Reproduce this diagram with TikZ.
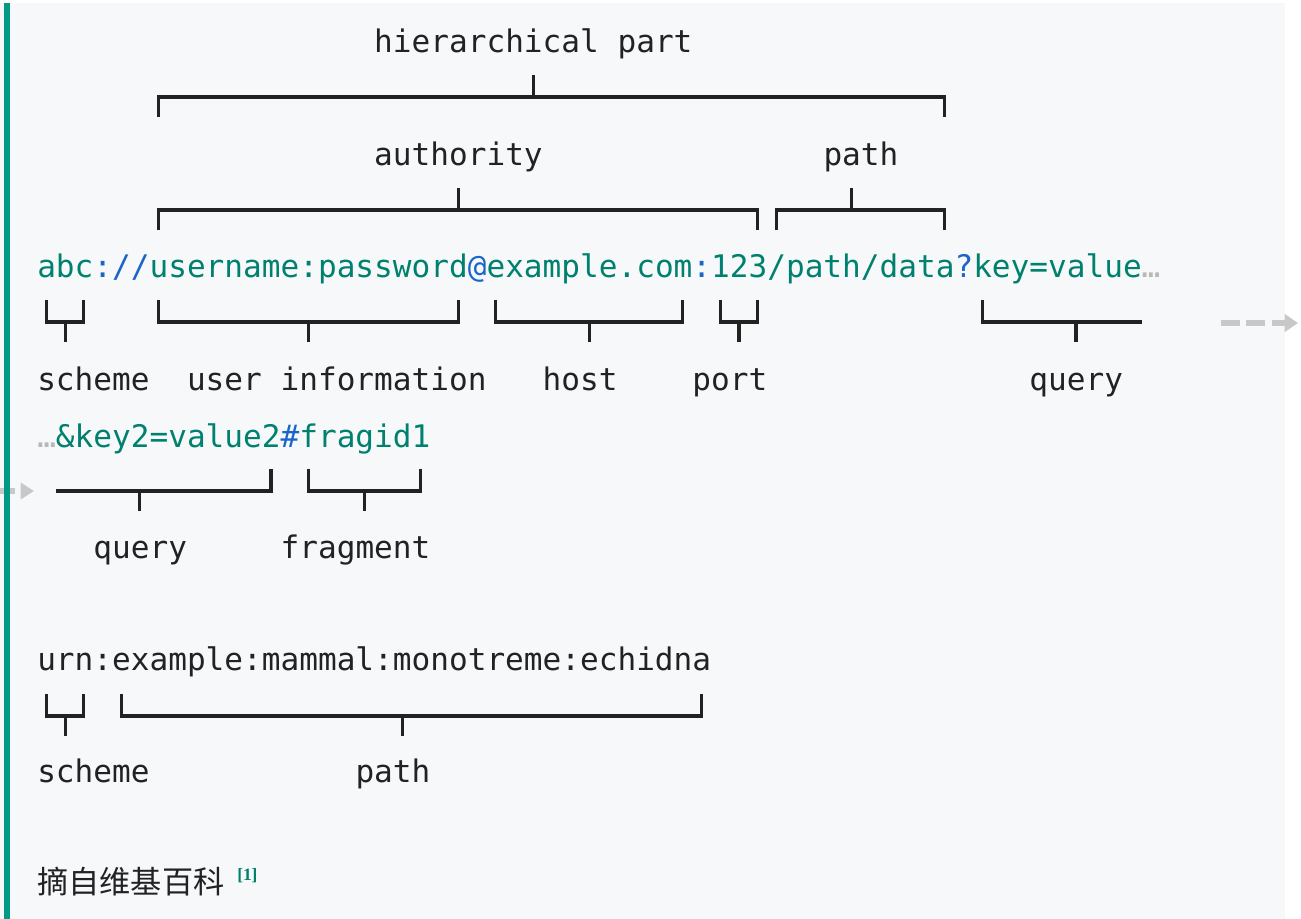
\documentclass[tikz,border=0pt]{standalone}
\usepackage{fontspec}
\newfontfamily\mono{DejaVu Sans Mono}
\newfontfamily\cjk{Noto Sans CJK SC}
\newfontfamily\refser{Liberation Serif}
\usetikzlibrary{arrows.meta}
\definecolor{panel}{HTML}{F6F8FA}
\definecolor{bar}{HTML}{009A86}
\definecolor{ug}{HTML}{00806E}
\definecolor{ub}{HTML}{1A66C8}
\definecolor{ink}{HTML}{222222}
\definecolor{ell}{HTML}{B8B8B8}
\definecolor{arr}{HTML}{C8C8C8}
\newcommand{\colx}[1]{46.36+18.72*#1}
\newcommand{\brkbot}[4]{%
  \draw[brk] ({\colx{#1}},{#4-22}) -- ({\colx{#1}},#4) -- ({\colx{#2}},#4) -- ({\colx{#2}},{#4-22});
  \draw[brk] ({\colx{#3}},#4) -- ({\colx{#3}},{#4+20});}
\newcommand{\brktop}[4]{%
  \draw[brk] ({\colx{#1}},{#4+20}) -- ({\colx{#1}},#4) -- ({\colx{#2}},#4) -- ({\colx{#2}},{#4+20});
  \draw[brk] ({\colx{#3}},#4) -- ({\colx{#3}},{#4-22});}
\begin{document}
\begin{tikzpicture}[x=0.75pt,y=-0.75pt,
  txt/.style={inner sep=0pt,anchor=base west,text=ink,font=\mono\fontsize{23.32pt}{28pt}\selectfont},
  brk/.style={draw=ink,line width=2.3pt,line cap=butt,line join=miter},
  contarrow/.style={draw=arr,line width=4pt,dash pattern=on 14pt off 5pt,-{Triangle[length=10pt,width=13pt,fill=arr]}}]
\useasboundingbox (0,0) rectangle (1301,919);
\fill[white] (0,0) rectangle (1301,919);
\fill[panel] (0,3) rectangle (1285,919);
% continuation arrows
\coordinate (ra) at (1221,323);
\coordinate (rb) at (1298,323);
\draw[contarrow] (ra) -- (rb);
\coordinate (la) at (-2,491);
\coordinate (lb) at (34,491);
\draw[draw=arr,line width=4pt,dash pattern=on 13pt off 4pt,-{Triangle[length=10pt,width=12pt,fill=arr]}] (la) -- (lb);
\fill[bar] (4,3) rectangle (9.5,919);
% row 0
\node[txt] (hp) at (37+18.72*18,53) {hierarchical part};
\brktop{6}{48}{26}{97}
% row 2
\node[txt] (au) at (37+18.72*18,166) {authority};
\node[txt] (pa) at (37+18.72*42,166) {path};
\brktop{6}{38}{22}{210}
\brktop{39}{48}{43}{210}
% URL line
\node[txt] (url) at (37,278) {{\color{ug}abc}{\color{ub}://}{\color{ug}username:password}{\color{ub}@}{\color{ug}example.com}{\color{ub}:}{\color{ug}123/path/data}{\color{ub}?}{\color{ug}key=value}{\color{ell}…}};
\brkbot{0}{2}{1}{322}
\brkbot{6}{22}{14}{322}
\brkbot{24}{34}{29}{322}
\brkbot{36}{38}{37}{322}
\draw[brk] ({\colx{50}},300) -- ({\colx{50}},322) -- (1141.5,322);
\draw[brk] ({\colx{55}},322) -- ({\colx{55}},342);
% labels
\node[txt] (sc) at (37,390) {scheme};
\node[txt] (ui) at (37+18.72*8,390) {user information};
\node[txt] (ho) at (37+18.72*27,390) {host};
\node[txt] (po) at (37+18.72*35,390) {port};
\node[txt] (qu) at (37+18.72*53,390) {query};
% line 2
\node[txt] (l2) at (37,447) {{\color{ell}…}{\color{ug}\&key2=value2}{\color{ub}\#}{\color{ug}fragid1}};
\draw[brk] (55.7,491) -- ({\colx{12}},491) -- ({\colx{12}},469);
\draw[brk] ({\colx{5}},491) -- ({\colx{5}},511);
\brkbot{14}{20}{17}{491}
\node[txt] (qu2) at (37+18.72*3,558) {query};
\node[txt] (fr) at (37+18.72*13,558) {fragment};
% urn
\node[txt] (urn) at (37,670) {urn:example:mammal:monotreme:echidna};
\brkbot{0}{2}{1}{716}
\brkbot{4}{35}{19}{716}
\node[txt] (sc2) at (37,782) {scheme};
\node[txt] (pa2) at (37+18.72*17,782) {path};
% source
\node[inner sep=0pt,anchor=base west,text=ink,font=\cjk\fontsize{23.4pt}{28pt}\selectfont] (src) at (37,893) {摘自维基百科};
\node[inner sep=0pt,anchor=base west,text=ug,font=\refser\bfseries\fontsize{13pt}{15pt}\selectfont] (ref) at (237,880) {[1]};
\end{tikzpicture}
\end{document}
